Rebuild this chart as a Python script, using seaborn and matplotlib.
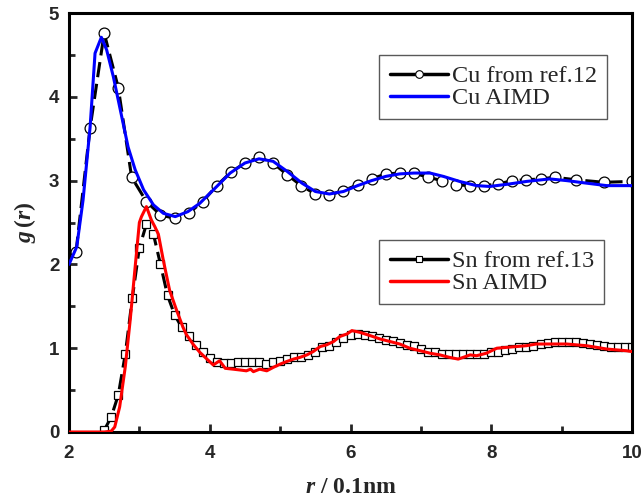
import matplotlib
matplotlib.use("Agg")
import numpy as np
import pandas as pd
import seaborn as sns
import matplotlib.pyplot as plt
from matplotlib.lines import Line2D
from matplotlib.ticker import MultipleLocator

# ---------------- data ----------------
cu_ref_r = [2.1, 2.3, 2.5, 2.7, 2.89, 3.1, 3.3, 3.5, 3.7, 3.9, 4.1, 4.3, 4.5, 4.7, 4.9,
            5.1, 5.3, 5.5, 5.7, 5.9, 6.1, 6.3, 6.5, 6.7, 6.9, 7.1, 7.3, 7.5, 7.7, 7.9,
            8.1, 8.3, 8.5, 8.7, 8.9, 9.2, 9.6, 10.0]
cu_ref_g = [2.15, 3.63, 4.76, 4.11, 3.04, 2.75, 2.59, 2.55, 2.61, 2.75, 2.94, 3.10, 3.21,
            3.28, 3.21, 3.07, 2.94, 2.84, 2.83, 2.88, 2.95, 3.02, 3.08, 3.09, 3.09, 3.04,
            3.00, 2.95, 2.94, 2.94, 2.96, 3.00, 3.01, 3.02, 3.04, 3.01, 2.98, 2.99]

cu_aimd_r = [2.0, 2.11, 2.20, 2.30, 2.37, 2.46, 2.535, 2.63, 2.75, 2.84, 2.94, 3.06, 3.20,
             3.34, 3.51, 3.69, 3.86, 4.10, 4.29, 4.50, 4.70, 4.90, 5.10, 5.31, 5.50, 5.70,
             5.90, 6.10, 6.30, 6.50, 6.70, 6.90, 7.13, 7.32, 7.55, 7.79, 7.98, 8.26, 8.50,
             8.83, 9.07, 9.35, 9.64, 10.0]
cu_aimd_g = [2.00, 2.21, 2.77, 3.64, 4.52, 4.71, 4.56, 4.24, 3.76, 3.40, 3.13, 2.89, 2.71,
             2.61, 2.57, 2.63, 2.73, 2.93, 3.09, 3.21, 3.26, 3.23, 3.11, 2.97, 2.87, 2.84,
             2.87, 2.94, 3.00, 3.05, 3.08, 3.09, 3.09, 3.05, 2.99, 2.94, 2.93, 2.96, 2.99,
             3.02, 3.00, 2.97, 2.94, 2.94]

sn_ref_r = [round(2.5 + 0.1 * i, 1) for i in range(76)]
sn_ref_g = [0.02, 0.18, 0.44, 0.93, 1.60, 2.20, 2.48, 2.36, 2.00, 1.63,
            1.40, 1.25, 1.14, 1.04, 0.95, 0.88, 0.83, 0.82, 0.82, 0.83,
            0.84, 0.84, 0.83, 0.81, 0.83, 0.85, 0.87, 0.89, 0.90, 0.92,
            0.96, 1.01, 1.03, 1.07, 1.12, 1.16, 1.17, 1.16, 1.14, 1.12,
            1.10, 1.08, 1.06, 1.04, 1.03, 0.99, 0.96, 0.95, 0.93, 0.93,
            0.93, 0.925, 0.925, 0.93, 0.93, 0.95, 0.96, 0.98, 0.99, 1.01,
            1.02, 1.03, 1.05, 1.06, 1.07, 1.07, 1.07, 1.07, 1.06, 1.05,
            1.04, 1.03, 1.02, 1.02, 1.01, 1.01]

sn_aimd_r = [2.0, 2.5, 2.6, 2.65, 2.72, 2.80, 2.87, 2.94, 3.00, 3.03, 3.10, 3.17, 3.22,
             3.27, 3.34, 3.43, 3.53, 3.62, 3.67, 3.77, 3.86, 3.96, 4.05, 4.14, 4.22, 4.33,
             4.43, 4.52, 4.58, 4.62, 4.71, 4.81, 4.90, 5.00, 5.09, 5.19, 5.28, 5.38, 5.47,
             5.57, 5.66, 5.76, 5.85, 5.95, 6.02, 6.13, 6.28, 6.42, 6.56, 6.70, 6.84, 6.99,
             7.13, 7.27, 7.41, 7.53, 7.60, 7.70, 7.79, 7.93, 8.08, 8.22, 8.36, 8.50, 8.64,
             8.79, 8.93, 9.07, 9.21, 9.35, 9.50, 9.64, 9.78, 9.92, 10.0]
sn_aimd_g = [0.0, 0.0, 0.01, 0.06, 0.30, 0.78, 1.34, 1.97, 2.50, 2.57, 2.69, 2.53, 2.45,
             2.36, 2.05, 1.69, 1.45, 1.25, 1.16, 1.04, 0.95, 0.87, 0.80, 0.85, 0.76, 0.75,
             0.74, 0.73, 0.75, 0.72, 0.75, 0.73, 0.77, 0.81, 0.84, 0.87, 0.89, 0.92, 0.96,
             1.02, 1.04, 1.08, 1.14, 1.17, 1.21, 1.19, 1.15, 1.11, 1.08, 1.05, 1.00, 0.97,
             0.94, 0.92, 0.89, 0.87, 0.89, 0.92, 0.91, 0.94, 1.00, 1.01, 1.02, 1.03, 1.05,
             1.05, 1.05, 1.05, 1.04, 1.03, 1.01, 0.99, 0.98, 0.97, 0.96]

labels = ["Cu from ref.12", "Cu AIMD", "Sn from ref.13", "Sn AIMD"]
x_ticks = [2, 4, 6, 8, 10]
y_ticks = [0, 1, 2, 3, 4, 5]

# ---------------- style ----------------
sns.set_style("ticks")
plt.rcParams["font.family"] = ["Liberation Serif", "DejaVu Sans"]
plt.rcParams["mathtext.fontset"] = "custom"
plt.rcParams["mathtext.rm"] = "Liberation Serif:bold"
plt.rcParams["mathtext.bf"] = "Liberation Serif:bold"
plt.rcParams["mathtext.it"] = "Liberation Serif:italic:bold"

fig = plt.figure(figsize=(6.44, 4.97), dpi=100)
ax = fig.add_axes([69 / 644, 1 - 432 / 497, 563 / 644, 419 / 497])

dash = (0, (5, 2.2))
sns.lineplot(x=cu_ref_r, y=cu_ref_g, ax=ax, color="black", lw=2.2, linestyle=dash,
             marker="o", markersize=7.8, markerfacecolor="white", markeredgecolor="black",
             markeredgewidth=0.9, zorder=2, legend=False)
sns.lineplot(x=cu_aimd_r, y=cu_aimd_g, ax=ax, color="#0000ff", lw=2.2, zorder=3, legend=False)
sns.lineplot(x=sn_ref_r, y=sn_ref_g, ax=ax, color="black", lw=2.2, linestyle=dash,
             marker="s", markersize=5.8, markerfacecolor="white", markeredgecolor="black",
             markeredgewidth=0.9, zorder=2, legend=False)
sns.lineplot(x=sn_aimd_r, y=sn_aimd_g, ax=ax, color="#ff0000", lw=2.2, zorder=3, legend=False)

ax.set_xlim(2, 10)
ax.set_ylim(0, 5)
ax.set_xticks(x_ticks)
ax.set_yticks(y_ticks)
ax.xaxis.set_minor_locator(MultipleLocator(1))
ax.yaxis.set_minor_locator(MultipleLocator(0.5))
for s in ax.spines.values():
    s.set_visible(True)
    s.set_linewidth(2.2)
    s.set_color("black")
ax.tick_params(which="major", direction="in", length=6, width=2,
               top=False, right=False, labelsize=13.5)
ax.tick_params(axis="x", which="major", pad=9)
ax.tick_params(axis="y", which="major", pad=7)
ax.tick_params(which="minor", direction="in", length=4, width=2, top=False, right=False)
for lab in ax.get_xticklabels() + ax.get_yticklabels():
    lab.set_family("Liberation Sans")
    lab.set_fontweight("bold")

ax.set_xlabel(r"$r$ / 0.1nm", fontsize=17, fontweight="bold", labelpad=11)
ax.set_ylabel(r"$g\,(r)$", fontsize=17, fontweight="bold", labelpad=8)

# ---------------- legends ----------------
def make_leg(handles, names, anchor):
    leg = ax.legend(handles, names, loc="upper right", bbox_to_anchor=anchor,
                    fontsize=17.5, frameon=True, fancybox=False, framealpha=1,
                    edgecolor="0.35", handlelength=2.4, handletextpad=0.15,
                    labelspacing=0.0, borderpad=0.42, borderaxespad=0)
    leg.get_frame().set_linewidth(1.0)
    return leg

h_cu_ref = Line2D([], [], color="black", lw=2.5, marker="o", markersize=5.5,
                  markerfacecolor="white", markeredgecolor="black", markeredgewidth=0.8)
h_cu = Line2D([], [], color="#0000ff", lw=2.5)
h_sn_ref = Line2D([], [], color="black", lw=2.5, marker="s", markersize=5,
                  markerfacecolor="white", markeredgecolor="black", markeredgewidth=0.8)
h_sn = Line2D([], [], color="#ff0000", lw=2.5)

leg1 = make_leg([h_cu_ref, h_cu], labels[:2], ((607 - 69) / 563, (432 - 55) / 419))
ax.add_artist(leg1)
leg2 = make_leg([h_sn_ref, h_sn], labels[2:], ((604 - 69) / 563, (432 - 240) / 419))

fig.savefig("out.png", dpi=100)
